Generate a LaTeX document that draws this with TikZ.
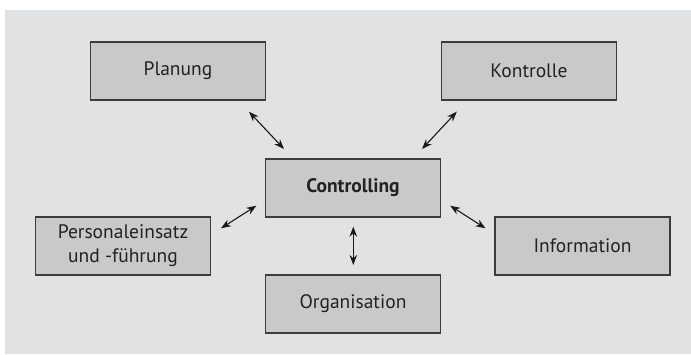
\documentclass[tikz,border=0pt]{standalone}
\usepackage{fontspec}
\setmainfont{PT Sans}
\usetikzlibrary{arrows.meta}
\definecolor{panelgray}{HTML}{E1E2E4}
\definecolor{boxgray}{HTML}{C8C9CB}
\definecolor{edgegray}{HTML}{3C3C3C}
\definecolor{textgray}{HTML}{222222}
\tikzset{
  topic/.style={draw=edgegray, line width=1.3pt, fill=boxgray,
    minimum width=175pt, minimum height=58pt, inner sep=0pt,
    align=center, text=textgray, font=\fontsize{19.5}{24}\selectfont},
  link/.style={line width=1.1pt, draw=black!90,
    {Stealth[length=10pt,width=7.5pt]}-{Stealth[length=10pt,width=7.5pt]}}
}
\begin{document}
\begin{tikzpicture}[x=1pt,y=-1pt]
  \useasboundingbox (0,0) rectangle (691,355);
  \fill[panelgray] (4.5,10) rectangle (690.5,354);

  \node[topic] (plan) at (178,71) {Planung};
  \node[topic] (kontr) at (529,71) {Kontrolle};
  \node[topic, font=\fontsize{19.5}{24}\selectfont\bfseries] (ctrl) at (353,188) {Controlling};
  \node[topic] (pers) at (123,246) {Personaleinsatz\\und -führung};
  \node[topic] (info) at (582.5,246) {Information};
  \node[topic] (orga) at (353,304) {Organisation};

  % connectors end short of the boxes, anchored on named points
  \coordinate (p1) at (249,111.7); \coordinate (p2) at (284,149);
  \coordinate (k1) at (456.8,111.7); \coordinate (k2) at (422,149);
  \coordinate (s1) at (221,228.3); \coordinate (s2) at (256.4,205.7);
  \coordinate (i1) at (450.2,205.7); \coordinate (i2) at (485.5,228.3);
  \coordinate (o1) at (353.3,226.7); \coordinate (o2) at (353.3,265);

  \draw[link] (p1) -- (p2);
  \draw[link] (k1) -- (k2);
  \draw[link] (s1) -- (s2);
  \draw[link] (i1) -- (i2);
  \draw[link] (o1) -- (o2);
\end{tikzpicture}
\end{document}
